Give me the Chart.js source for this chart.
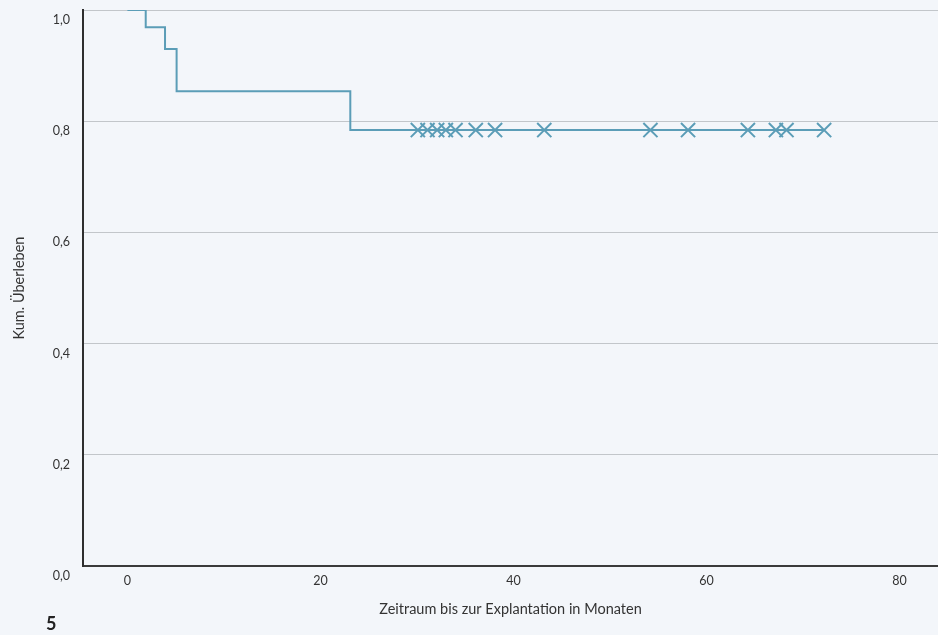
<!DOCTYPE html>
<html lang="de">
<head>
    <meta charset="UTF-8">
    <title>Kum. Überleben</title>
    <style>
        body {
            margin: 0;
            background: #f3f6fa;
        }
        .wrap {
            position: relative;
            width: 938px;
            height: 635px;
        }
        .fig-no {
            position: absolute;
            left: 46px;
            top: 612px;
            font-family: 'Lato', sans-serif;
            font-weight: bold;
            font-size: 18px;
            color: #222;
        }
    </style>
</head>
<body>
    <div class="wrap">
        <canvas id="kmChart" width="938" height="635"></canvas>
        <div class="fig-no">5</div>
    </div>

    <script src="https://cdn.jsdelivr.net/npm/chart.js"></script>
    <script>
        // Kaplan-Meier Kurve (Zeitpunkte in Monaten, kum. Überleben)
        const stepMonths = [0, 1.9, 3.9, 5.1, 23.1, 72.2];
        const stepSurvival = [1.0, 0.969, 0.930, 0.854, 0.784, 0.784];

        // zensierte Fälle
        const censoredMonths = [30.1, 31.1, 32.1, 33.0, 34.0, 36.1, 38.1, 43.2, 54.2, 58.1, 64.3, 67.2, 68.3, 72.2];
        const censoredSurvival = 0.784;

        const xTicks = [0, 20, 40, 60, 80];
        const yTicks = [0, 0.2, 0.4, 0.6, 0.8, 1.0];

        const teal = '#5b9db7';
        const tickFont = { family: 'Lato', size: 12.5 };
        const titleFont = { family: 'Lato', size: 14.5 };

        const ctx = document.getElementById('kmChart').getContext('2d');
        new Chart(ctx, {
            type: 'line',
            data: {
                datasets: [
                    {
                        label: 'Überleben',
                        data: stepMonths.map((m, i) => ({ x: m, y: stepSurvival[i] })),
                        borderColor: teal,
                        borderWidth: 2,
                        stepped: 'before',
                        pointRadius: 0,
                        fill: false
                    },
                    {
                        label: 'zensiert',
                        data: censoredMonths.map(m => ({ x: m, y: censoredSurvival })),
                        showLine: false,
                        pointStyle: 'crossRot',
                        pointRadius: 10,
                        pointBorderWidth: 2,
                        pointBorderColor: teal,
                        pointBackgroundColor: teal
                    }
                ]
            },
            options: {
                responsive: false,
                animation: false,
                layout: {
                    autoPadding: false,
                    padding: { top: 10, right: 0, left: 0, bottom: 0 }
                },
                plugins: {
                    legend: { display: false },
                    tooltip: { enabled: false }
                },
                scales: {
                    x: {
                        type: 'linear',
                        min: -4.6,
                        max: 84,
                        afterBuildTicks: axis => {
                            axis.ticks = xTicks.map(v => ({ value: v }));
                        },
                        afterFit: axis => {
                            axis.height = 69;
                            axis.paddingLeft = 0;
                            axis.paddingRight = 0;
                        },
                        grid: { drawOnChartArea: false, drawTicks: false },
                        border: { color: '#3a3a3a', width: 2 },
                        ticks: {
                            color: '#333',
                            font: tickFont,
                            padding: 7,
                            maxRotation: 0
                        },
                        title: {
                            display: true,
                            text: 'Zeitraum bis zur Explantation in Monaten',
                            color: '#333',
                            font: titleFont,
                            padding: { top: 0, bottom: 17 }
                        }
                    },
                    y: {
                        type: 'linear',
                        min: 0,
                        max: 1,
                        afterBuildTicks: axis => {
                            axis.ticks = yTicks.map(v => ({ value: v }));
                        },
                        afterFit: axis => {
                            axis.width = 83;
                            axis.paddingTop = 0;
                            axis.paddingBottom = 0;
                        },
                        grid: { color: '#c2c6ca', lineWidth: 1, drawTicks: false },
                        border: { color: '#2e2e2e', width: 2 },
                        ticks: {
                            color: '#333',
                            font: tickFont,
                            padding: 13,
                            labelOffset: 10,
                            callback: v => v.toFixed(1).replace('.', ',')
                        },
                        title: {
                            display: true,
                            text: 'Kum. Überleben',
                            color: '#333',
                            font: titleFont,
                            padding: { top: 11, bottom: 0 }
                        }
                    }
                }
            }
        });
    </script>
</body>
</html>
